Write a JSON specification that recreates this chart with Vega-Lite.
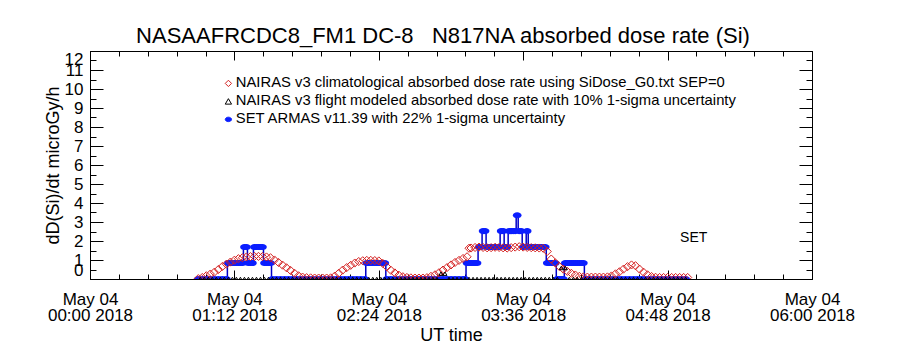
{
  "$schema": "https://vega.github.io/schema/vega-lite/v6.json",
  "width": 722,
  "height": 228,
  "autosize": {"type": "none"},
  "padding": {"left": 90, "top": 51, "right": 88, "bottom": 71},
  "background": "white",
  "title": {"text": "NASAAFRCDC8_FM1 DC-8\u00a0\u00a0 N817NA absorbed dose rate (Si)", "fontSize": 22, "fontWeight": "normal", "font": "Liberation Sans", "frame": "group", "offset": 2, "dx": -8, "color": "black"},
  "config": {
    "font": "Liberation Sans",
    "view": {"stroke": "black", "strokeWidth": 1},
    "axis": {"grid": false, "domainColor": "black", "tickColor": "black", "labelColor": "black", "titleColor": "black", "labelFont": "Liberation Sans", "titleFont": "Liberation Sans", "titleFontWeight": "normal", "labelFlush": false}
  },
  "datasets": {
    "armas": [
      {"ut_minutes":54,"dose_rate":0},{"ut_minutes":56,"dose_rate":0},{"ut_minutes":58,"dose_rate":0},{"ut_minutes":60,"dose_rate":0},{"ut_minutes":62,"dose_rate":0},{"ut_minutes":64,"dose_rate":0},{"ut_minutes":66,"dose_rate":0},{"ut_minutes":68,"dose_rate":0},
      {"ut_minutes":69,"dose_rate":0.84},{"ut_minutes":70,"dose_rate":0.84},{"ut_minutes":71,"dose_rate":0.84},{"ut_minutes":72,"dose_rate":0.84},{"ut_minutes":73,"dose_rate":0.84},{"ut_minutes":74,"dose_rate":0.84},{"ut_minutes":75,"dose_rate":0.84},{"ut_minutes":76,"dose_rate":0.84},
      {"ut_minutes":77,"dose_rate":1.68},{"ut_minutes":78,"dose_rate":1.68},
      {"ut_minutes":79,"dose_rate":0.84},{"ut_minutes":80,"dose_rate":0.84},{"ut_minutes":81,"dose_rate":0.84},
      {"ut_minutes":82,"dose_rate":1.68},{"ut_minutes":83,"dose_rate":1.68},{"ut_minutes":84,"dose_rate":1.68},{"ut_minutes":85,"dose_rate":1.68},{"ut_minutes":86,"dose_rate":1.68},
      {"ut_minutes":87,"dose_rate":0.84},{"ut_minutes":88,"dose_rate":0.84},{"ut_minutes":89,"dose_rate":0.84},{"ut_minutes":90,"dose_rate":0.84},
      {"ut_minutes":91,"dose_rate":0},{"ut_minutes":93,"dose_rate":0},{"ut_minutes":95,"dose_rate":0},{"ut_minutes":97,"dose_rate":0},{"ut_minutes":99,"dose_rate":0},{"ut_minutes":101,"dose_rate":0},{"ut_minutes":103,"dose_rate":0},{"ut_minutes":105,"dose_rate":0},{"ut_minutes":107,"dose_rate":0},{"ut_minutes":109,"dose_rate":0},{"ut_minutes":111,"dose_rate":0},{"ut_minutes":113,"dose_rate":0},{"ut_minutes":115,"dose_rate":0},{"ut_minutes":117,"dose_rate":0},{"ut_minutes":119,"dose_rate":0},{"ut_minutes":121,"dose_rate":0},{"ut_minutes":123,"dose_rate":0},{"ut_minutes":125,"dose_rate":0},{"ut_minutes":127,"dose_rate":0},{"ut_minutes":129,"dose_rate":0},{"ut_minutes":131,"dose_rate":0},{"ut_minutes":133,"dose_rate":0},{"ut_minutes":135,"dose_rate":0},{"ut_minutes":137,"dose_rate":0},
      {"ut_minutes":138,"dose_rate":0.84},{"ut_minutes":139,"dose_rate":0.84},{"ut_minutes":140,"dose_rate":0.84},{"ut_minutes":141,"dose_rate":0.84},{"ut_minutes":142,"dose_rate":0.84},{"ut_minutes":143,"dose_rate":0.84},{"ut_minutes":144,"dose_rate":0.84},{"ut_minutes":145,"dose_rate":0.84},{"ut_minutes":146,"dose_rate":0.84},{"ut_minutes":147,"dose_rate":0.84},
      {"ut_minutes":148,"dose_rate":0},{"ut_minutes":150,"dose_rate":0},{"ut_minutes":152,"dose_rate":0},{"ut_minutes":154,"dose_rate":0},{"ut_minutes":156,"dose_rate":0},{"ut_minutes":158,"dose_rate":0},{"ut_minutes":160,"dose_rate":0},{"ut_minutes":162,"dose_rate":0},{"ut_minutes":164,"dose_rate":0},{"ut_minutes":166,"dose_rate":0},{"ut_minutes":168,"dose_rate":0},{"ut_minutes":170,"dose_rate":0},{"ut_minutes":172,"dose_rate":0},{"ut_minutes":174,"dose_rate":0},{"ut_minutes":176,"dose_rate":0},{"ut_minutes":178,"dose_rate":0},{"ut_minutes":180,"dose_rate":0},{"ut_minutes":182,"dose_rate":0},{"ut_minutes":184,"dose_rate":0},{"ut_minutes":186,"dose_rate":0},{"ut_minutes":187,"dose_rate":0},
      {"ut_minutes":188,"dose_rate":0.84},{"ut_minutes":189,"dose_rate":0.84},{"ut_minutes":190,"dose_rate":0.84},{"ut_minutes":191,"dose_rate":0.84},{"ut_minutes":192,"dose_rate":0.84},{"ut_minutes":193,"dose_rate":0.84},
      {"ut_minutes":194,"dose_rate":1.68},{"ut_minutes":195,"dose_rate":1.68},
      {"ut_minutes":196,"dose_rate":2.52},{"ut_minutes":197,"dose_rate":2.52},
      {"ut_minutes":198,"dose_rate":1.68},{"ut_minutes":199,"dose_rate":1.68},{"ut_minutes":200,"dose_rate":1.68},{"ut_minutes":201,"dose_rate":1.68},{"ut_minutes":202,"dose_rate":1.68},{"ut_minutes":203,"dose_rate":1.68},{"ut_minutes":204,"dose_rate":1.68},
      {"ut_minutes":205,"dose_rate":2.52},{"ut_minutes":206,"dose_rate":2.52},
      {"ut_minutes":207,"dose_rate":1.68},{"ut_minutes":208,"dose_rate":1.68},
      {"ut_minutes":209,"dose_rate":2.52},{"ut_minutes":210,"dose_rate":2.52},{"ut_minutes":211,"dose_rate":2.52},{"ut_minutes":212,"dose_rate":2.52},
      {"ut_minutes":213,"dose_rate":3.36},
      {"ut_minutes":214,"dose_rate":2.52},{"ut_minutes":215,"dose_rate":2.52},
      {"ut_minutes":216,"dose_rate":1.68},{"ut_minutes":217,"dose_rate":1.68},
      {"ut_minutes":218,"dose_rate":2.52},
      {"ut_minutes":219,"dose_rate":1.68},{"ut_minutes":220,"dose_rate":1.68},{"ut_minutes":221,"dose_rate":1.68},{"ut_minutes":222,"dose_rate":1.68},{"ut_minutes":223,"dose_rate":1.68},{"ut_minutes":224,"dose_rate":1.68},{"ut_minutes":225,"dose_rate":1.68},{"ut_minutes":226,"dose_rate":1.68},{"ut_minutes":227,"dose_rate":1.68},
      {"ut_minutes":228,"dose_rate":0.84},{"ut_minutes":229,"dose_rate":0.84},{"ut_minutes":230,"dose_rate":0.84},{"ut_minutes":231,"dose_rate":0.84},{"ut_minutes":232,"dose_rate":0.84},
      {"ut_minutes":233,"dose_rate":0},{"ut_minutes":234,"dose_rate":0},{"ut_minutes":235,"dose_rate":0},{"ut_minutes":236,"dose_rate":0},
      {"ut_minutes":237,"dose_rate":0.84},{"ut_minutes":238,"dose_rate":0.84},{"ut_minutes":239,"dose_rate":0.84},{"ut_minutes":240,"dose_rate":0.84},{"ut_minutes":241,"dose_rate":0.84},{"ut_minutes":242,"dose_rate":0.84},{"ut_minutes":243,"dose_rate":0.84},{"ut_minutes":244,"dose_rate":0.84},{"ut_minutes":245,"dose_rate":0.84},{"ut_minutes":246,"dose_rate":0.84},
      {"ut_minutes":247,"dose_rate":0},{"ut_minutes":249,"dose_rate":0},{"ut_minutes":251,"dose_rate":0},{"ut_minutes":253,"dose_rate":0},{"ut_minutes":255,"dose_rate":0},{"ut_minutes":257,"dose_rate":0},{"ut_minutes":259,"dose_rate":0},{"ut_minutes":261,"dose_rate":0},{"ut_minutes":263,"dose_rate":0},{"ut_minutes":265,"dose_rate":0},{"ut_minutes":267,"dose_rate":0},{"ut_minutes":269,"dose_rate":0},{"ut_minutes":271,"dose_rate":0},{"ut_minutes":273,"dose_rate":0},{"ut_minutes":275,"dose_rate":0},{"ut_minutes":277,"dose_rate":0},{"ut_minutes":279,"dose_rate":0},{"ut_minutes":281,"dose_rate":0},{"ut_minutes":283,"dose_rate":0},{"ut_minutes":285,"dose_rate":0},{"ut_minutes":287,"dose_rate":0},{"ut_minutes":289,"dose_rate":0},{"ut_minutes":291,"dose_rate":0},{"ut_minutes":293,"dose_rate":0},{"ut_minutes":295,"dose_rate":0},{"ut_minutes":297,"dose_rate":0}
    ],
    "climatological": [
      {"ut_minutes":54,"dose_rate":0.02},{"ut_minutes":56,"dose_rate":0.08},{"ut_minutes":58,"dose_rate":0.17},{"ut_minutes":60,"dose_rate":0.26},{"ut_minutes":62,"dose_rate":0.36},{"ut_minutes":64,"dose_rate":0.5},{"ut_minutes":66,"dose_rate":0.66},{"ut_minutes":68,"dose_rate":0.78},{"ut_minutes":70,"dose_rate":0.89},{"ut_minutes":72,"dose_rate":0.99},{"ut_minutes":74,"dose_rate":1.07},{"ut_minutes":76,"dose_rate":1.12},{"ut_minutes":78,"dose_rate":1.16},{"ut_minutes":80,"dose_rate":1.18},{"ut_minutes":82,"dose_rate":1.19},{"ut_minutes":84,"dose_rate":1.19},{"ut_minutes":86,"dose_rate":1.18},{"ut_minutes":88,"dose_rate":1.16},{"ut_minutes":90,"dose_rate":1.12},{"ut_minutes":92,"dose_rate":1.0},{"ut_minutes":94,"dose_rate":0.87},{"ut_minutes":96,"dose_rate":0.73},{"ut_minutes":98,"dose_rate":0.59},{"ut_minutes":100,"dose_rate":0.45},{"ut_minutes":102,"dose_rate":0.3},{"ut_minutes":104,"dose_rate":0.17},{"ut_minutes":106,"dose_rate":0.1},{"ut_minutes":108,"dose_rate":0.07},{"ut_minutes":110,"dose_rate":0.06},{"ut_minutes":112,"dose_rate":0.05},{"ut_minutes":114,"dose_rate":0.05},{"ut_minutes":116,"dose_rate":0.05},{"ut_minutes":118,"dose_rate":0.05},{"ut_minutes":120,"dose_rate":0.06},{"ut_minutes":122,"dose_rate":0.15},{"ut_minutes":124,"dose_rate":0.3},{"ut_minutes":126,"dose_rate":0.47},{"ut_minutes":128,"dose_rate":0.6},{"ut_minutes":130,"dose_rate":0.72},{"ut_minutes":132,"dose_rate":0.84},{"ut_minutes":134,"dose_rate":0.92},{"ut_minutes":136,"dose_rate":0.96},{"ut_minutes":138,"dose_rate":0.98},{"ut_minutes":140,"dose_rate":0.98},{"ut_minutes":142,"dose_rate":0.97},{"ut_minutes":144,"dose_rate":0.95},{"ut_minutes":146,"dose_rate":0.82},{"ut_minutes":148,"dose_rate":0.64},{"ut_minutes":150,"dose_rate":0.46},{"ut_minutes":152,"dose_rate":0.32},{"ut_minutes":154,"dose_rate":0.2},{"ut_minutes":156,"dose_rate":0.12},{"ut_minutes":158,"dose_rate":0.08},{"ut_minutes":160,"dose_rate":0.06},{"ut_minutes":162,"dose_rate":0.05},{"ut_minutes":164,"dose_rate":0.05},{"ut_minutes":166,"dose_rate":0.05},{"ut_minutes":168,"dose_rate":0.07},{"ut_minutes":170,"dose_rate":0.14},{"ut_minutes":172,"dose_rate":0.22},{"ut_minutes":174,"dose_rate":0.33},{"ut_minutes":176,"dose_rate":0.47},{"ut_minutes":178,"dose_rate":0.6},{"ut_minutes":180,"dose_rate":0.74},{"ut_minutes":182,"dose_rate":0.87},{"ut_minutes":184,"dose_rate":0.98},{"ut_minutes":186,"dose_rate":1.08},{"ut_minutes":188,"dose_rate":1.17},{"ut_minutes":189,"dose_rate":1.62},{"ut_minutes":190,"dose_rate":1.63},{"ut_minutes":192,"dose_rate":1.66},{"ut_minutes":194,"dose_rate":1.68},{"ut_minutes":196,"dose_rate":1.66},{"ut_minutes":198,"dose_rate":1.64},{"ut_minutes":200,"dose_rate":1.65},{"ut_minutes":202,"dose_rate":1.67},{"ut_minutes":204,"dose_rate":1.66},{"ut_minutes":206,"dose_rate":1.64},{"ut_minutes":208,"dose_rate":1.63},{"ut_minutes":210,"dose_rate":1.65},{"ut_minutes":212,"dose_rate":1.68},{"ut_minutes":214,"dose_rate":1.7},{"ut_minutes":216,"dose_rate":1.68},{"ut_minutes":218,"dose_rate":1.66},{"ut_minutes":220,"dose_rate":1.65},{"ut_minutes":222,"dose_rate":1.64},{"ut_minutes":224,"dose_rate":1.63},{"ut_minutes":226,"dose_rate":1.62},{"ut_minutes":228,"dose_rate":1.45},{"ut_minutes":230,"dose_rate":1.05},{"ut_minutes":232,"dose_rate":0.85},{"ut_minutes":234,"dose_rate":0.66},{"ut_minutes":236,"dose_rate":0.52},{"ut_minutes":238,"dose_rate":0.4},{"ut_minutes":240,"dose_rate":0.3},{"ut_minutes":242,"dose_rate":0.21},{"ut_minutes":244,"dose_rate":0.14},{"ut_minutes":246,"dose_rate":0.11},{"ut_minutes":248,"dose_rate":0.1},{"ut_minutes":250,"dose_rate":0.1},{"ut_minutes":252,"dose_rate":0.1},{"ut_minutes":254,"dose_rate":0.1},{"ut_minutes":256,"dose_rate":0.1},{"ut_minutes":258,"dose_rate":0.11},{"ut_minutes":260,"dose_rate":0.16},{"ut_minutes":262,"dose_rate":0.27},{"ut_minutes":264,"dose_rate":0.38},{"ut_minutes":266,"dose_rate":0.52},{"ut_minutes":268,"dose_rate":0.65},{"ut_minutes":270,"dose_rate":0.74},{"ut_minutes":272,"dose_rate":0.7},{"ut_minutes":274,"dose_rate":0.52},{"ut_minutes":276,"dose_rate":0.36},{"ut_minutes":278,"dose_rate":0.22},{"ut_minutes":280,"dose_rate":0.13},{"ut_minutes":282,"dose_rate":0.09},{"ut_minutes":284,"dose_rate":0.08},{"ut_minutes":286,"dose_rate":0.08},{"ut_minutes":288,"dose_rate":0.08},{"ut_minutes":290,"dose_rate":0.08},{"ut_minutes":292,"dose_rate":0.08},{"ut_minutes":294,"dose_rate":0.08},{"ut_minutes":296,"dose_rate":0.08},{"ut_minutes":298,"dose_rate":0.08}
    ],
    "flight_model": [
      {"ut_minutes":55,"dose_rate":0},{"ut_minutes":57,"dose_rate":0},{"ut_minutes":59,"dose_rate":0},{"ut_minutes":61,"dose_rate":0},{"ut_minutes":63,"dose_rate":0},{"ut_minutes":65,"dose_rate":0},{"ut_minutes":67,"dose_rate":0},{"ut_minutes":69,"dose_rate":0},{"ut_minutes":71,"dose_rate":0},{"ut_minutes":73,"dose_rate":0},{"ut_minutes":75,"dose_rate":0},{"ut_minutes":77,"dose_rate":0},{"ut_minutes":79,"dose_rate":0},{"ut_minutes":81,"dose_rate":0},{"ut_minutes":83,"dose_rate":0},{"ut_minutes":85,"dose_rate":0},{"ut_minutes":87,"dose_rate":0},{"ut_minutes":89,"dose_rate":0},{"ut_minutes":91,"dose_rate":0},{"ut_minutes":93,"dose_rate":0},{"ut_minutes":95,"dose_rate":0},{"ut_minutes":97,"dose_rate":0},{"ut_minutes":99,"dose_rate":0},{"ut_minutes":101,"dose_rate":0},{"ut_minutes":103,"dose_rate":0},{"ut_minutes":105,"dose_rate":0},{"ut_minutes":107,"dose_rate":0},{"ut_minutes":109,"dose_rate":0},{"ut_minutes":111,"dose_rate":0},{"ut_minutes":113,"dose_rate":0},{"ut_minutes":115,"dose_rate":0},{"ut_minutes":117,"dose_rate":0},{"ut_minutes":119,"dose_rate":0},{"ut_minutes":121,"dose_rate":0},{"ut_minutes":123,"dose_rate":0},{"ut_minutes":125,"dose_rate":0},{"ut_minutes":127,"dose_rate":0},{"ut_minutes":129,"dose_rate":0},{"ut_minutes":131,"dose_rate":0},{"ut_minutes":133,"dose_rate":0},{"ut_minutes":135,"dose_rate":0},{"ut_minutes":137,"dose_rate":0},{"ut_minutes":139,"dose_rate":0},{"ut_minutes":141,"dose_rate":0},{"ut_minutes":143,"dose_rate":0},{"ut_minutes":145,"dose_rate":0},{"ut_minutes":147,"dose_rate":0},{"ut_minutes":149,"dose_rate":0},{"ut_minutes":151,"dose_rate":0},{"ut_minutes":153,"dose_rate":0},{"ut_minutes":155,"dose_rate":0},{"ut_minutes":157,"dose_rate":0},{"ut_minutes":159,"dose_rate":0},{"ut_minutes":161,"dose_rate":0},{"ut_minutes":163,"dose_rate":0},{"ut_minutes":165,"dose_rate":0},{"ut_minutes":167,"dose_rate":0},{"ut_minutes":169,"dose_rate":0},{"ut_minutes":171,"dose_rate":0},{"ut_minutes":173,"dose_rate":0},{"ut_minutes":175,"dose_rate":0.28},{"ut_minutes":177,"dose_rate":0.28},{"ut_minutes":179,"dose_rate":0},{"ut_minutes":181,"dose_rate":0},{"ut_minutes":183,"dose_rate":0},{"ut_minutes":185,"dose_rate":0},{"ut_minutes":187,"dose_rate":0},{"ut_minutes":189,"dose_rate":0},{"ut_minutes":191,"dose_rate":0},{"ut_minutes":193,"dose_rate":0},{"ut_minutes":195,"dose_rate":0},{"ut_minutes":197,"dose_rate":0},{"ut_minutes":199,"dose_rate":0},{"ut_minutes":201,"dose_rate":0},{"ut_minutes":203,"dose_rate":0},{"ut_minutes":205,"dose_rate":0},{"ut_minutes":207,"dose_rate":0},{"ut_minutes":209,"dose_rate":0},{"ut_minutes":211,"dose_rate":0},{"ut_minutes":213,"dose_rate":0},{"ut_minutes":215,"dose_rate":0},{"ut_minutes":217,"dose_rate":0},{"ut_minutes":219,"dose_rate":0},{"ut_minutes":221,"dose_rate":0},{"ut_minutes":223,"dose_rate":0},{"ut_minutes":225,"dose_rate":0},{"ut_minutes":227,"dose_rate":0},{"ut_minutes":229,"dose_rate":0},{"ut_minutes":231,"dose_rate":0},{"ut_minutes":233,"dose_rate":0},{"ut_minutes":235,"dose_rate":0.58},{"ut_minutes":237,"dose_rate":0.58},{"ut_minutes":239,"dose_rate":0},{"ut_minutes":241,"dose_rate":0},{"ut_minutes":243,"dose_rate":0},{"ut_minutes":245,"dose_rate":0},{"ut_minutes":247,"dose_rate":0},{"ut_minutes":249,"dose_rate":0},{"ut_minutes":251,"dose_rate":0},{"ut_minutes":253,"dose_rate":0},{"ut_minutes":255,"dose_rate":0},{"ut_minutes":257,"dose_rate":0},{"ut_minutes":259,"dose_rate":0},{"ut_minutes":261,"dose_rate":0},{"ut_minutes":263,"dose_rate":0},{"ut_minutes":265,"dose_rate":0},{"ut_minutes":267,"dose_rate":0},{"ut_minutes":269,"dose_rate":0},{"ut_minutes":271,"dose_rate":0},{"ut_minutes":273,"dose_rate":0},{"ut_minutes":275,"dose_rate":0},{"ut_minutes":277,"dose_rate":0},{"ut_minutes":279,"dose_rate":0},{"ut_minutes":281,"dose_rate":0},{"ut_minutes":283,"dose_rate":0},{"ut_minutes":285,"dose_rate":0},{"ut_minutes":287,"dose_rate":0},{"ut_minutes":289,"dose_rate":0},{"ut_minutes":291,"dose_rate":0},{"ut_minutes":293,"dose_rate":0},{"ut_minutes":295,"dose_rate":0},{"ut_minutes":297,"dose_rate":0}
    ],
    "note": [{"ut_minutes": 301, "dose_rate": 2.16, "label": "SET"}]
  },
  "resolve": {"axis": {"x": "independent", "y": "independent"}},
  "layer": [
    {
      "data": {"name": "armas"},
      "mark": {"type": "line", "interpolate": "step", "color": "#0000c8", "strokeWidth": 1.5, "clip": true},
      "encoding": {
        "x": {"field": "ut_minutes", "type": "quantitative", "scale": {"domain": [0, 360], "nice": false, "zero": false},
          "axis": {"orient": "bottom", "values": [0,72,144,216,288,360],
            "labelExpr": "['May 04', (floor(datum.value/60) < 10 ? '0' : '') + floor(datum.value/60) + ':' + (datum.value % 60 < 10 ? '0' : '') + (datum.value % 60) + ' 2018']",
            "tickSize": -9, "labelPadding": 21, "labelFontSize": 17, "labelLineHeight": 16, "labelBaseline": "top", "labelOverlap": false, "labelFlush": false,
            "title": "UT time", "titleFontSize": 18, "titlePadding": 3}},
        "y": {"field": "dose_rate", "type": "quantitative", "scale": {"domain": [0, 12], "nice": false},
          "axis": {"orient": "left", "values": [0,1,2,3,4,5,6,7,8,9,10,11,12], "format": "d",
            "tickSize": -13, "labelFlush": true, "labelPadding": 20, "labelFontSize": 17, "labelOverlap": false,
            "title": "dD(Si)/dt microGy/h", "titleFontSize": 18, "titlePadding": 2}}
      }
    },
    {
      "data": {"name": "armas"},
      "mark": {"type": "point", "filled": true, "size": 75, "opacity": 1, "strokeWidth": 0, "clip": true},
      "encoding": {
        "x": {"field": "ut_minutes", "type": "quantitative", "axis": null},
        "y": {"field": "dose_rate", "type": "quantitative", "axis": null},
        "shape": {"datum": "SET ARMAS v11.39 with 22% 1-sigma uncertainty",
          "scale": {"domain": ["NAIRAS v3 climatological absorbed dose rate using SiDose_G0.txt SEP=0", "NAIRAS v3 flight modeled absorbed dose rate with 10% 1-sigma uncertainty", "SET ARMAS v11.39 with 22% 1-sigma uncertainty"], "range": ["diamond", "triangle-up", "M-1,0A1,0.7 0 1,0 1,0A1,0.7 0 1,0 -1,0Z"]},
          "legend": {"orient": "none", "legendX": 131, "legendY": 25, "title": null, "labelFontSize": 14.8, "labelFont": "Liberation Sans", "labelColor": "black", "symbolSize": 40, "symbolStrokeWidth": 1, "labelOffset": 0, "rowPadding": 2, "padding": 0, "labelLimit": 700}},
        "fill": {"datum": "SET ARMAS v11.39 with 22% 1-sigma uncertainty",
          "scale": {"domain": ["NAIRAS v3 climatological absorbed dose rate using SiDose_G0.txt SEP=0", "NAIRAS v3 flight modeled absorbed dose rate with 10% 1-sigma uncertainty", "SET ARMAS v11.39 with 22% 1-sigma uncertainty"], "range": ["transparent", "transparent", "#0a1eff"]}},
        "stroke": {"datum": "SET ARMAS v11.39 with 22% 1-sigma uncertainty",
          "scale": {"domain": ["NAIRAS v3 climatological absorbed dose rate using SiDose_G0.txt SEP=0", "NAIRAS v3 flight modeled absorbed dose rate with 10% 1-sigma uncertainty", "SET ARMAS v11.39 with 22% 1-sigma uncertainty"], "range": ["#d42020", "#000000", "#0a1eff"]}}
      }
    },
    {
      "data": {"name": "climatological"},
      "mark": {"type": "point", "filled": false, "size": 66, "opacity": 1, "strokeWidth": 1, "clip": true},
      "encoding": {
        "x": {"field": "ut_minutes", "type": "quantitative",
          "axis": {"orient": "bottom", "values": [14.4,28.8,43.2,57.6,86.4,100.8,115.2,129.6,158.4,172.8,187.2,201.6,230.4,244.8,259.2,273.6,302.4,316.8,331.2,345.6], "labels": false, "title": null, "domain": false, "tickSize": -5}},
        "y": {"field": "dose_rate", "type": "quantitative",
          "axis": {"orient": "left", "values": [0.5,1.5,2.5,3.5,4.5,5.5,6.5,7.5,8.5,9.5,10.5,11.5], "labels": false, "title": null, "domain": false, "tickSize": -6}},
        "shape": {"datum": "NAIRAS v3 climatological absorbed dose rate using SiDose_G0.txt SEP=0"},
        "fill": {"datum": "NAIRAS v3 climatological absorbed dose rate using SiDose_G0.txt SEP=0"},
        "stroke": {"datum": "NAIRAS v3 climatological absorbed dose rate using SiDose_G0.txt SEP=0"}
      }
    },
    {
      "data": {"name": "flight_model"},
      "mark": {"type": "point", "filled": false, "size": 16, "opacity": 1, "strokeWidth": 1, "clip": true},
      "encoding": {
        "x": {"field": "ut_minutes", "type": "quantitative",
          "axis": {"orient": "top", "values": [14.4,28.8,43.2,57.6,86.4,100.8,115.2,129.6,158.4,172.8,187.2,201.6,230.4,244.8,259.2,273.6,302.4,316.8,331.2,345.6], "labels": false, "title": null, "domain": false, "tickSize": -5}},
        "y": {"field": "dose_rate", "type": "quantitative",
          "axis": {"orient": "right", "values": [0.5,1.5,2.5,3.5,4.5,5.5,6.5,7.5,8.5,9.5,10.5,11.5], "labels": false, "title": null, "domain": false, "tickSize": -6}},
        "shape": {"datum": "NAIRAS v3 flight modeled absorbed dose rate with 10% 1-sigma uncertainty"},
        "fill": {"datum": "NAIRAS v3 flight modeled absorbed dose rate with 10% 1-sigma uncertainty"},
        "stroke": {"datum": "NAIRAS v3 flight modeled absorbed dose rate with 10% 1-sigma uncertainty"}
      }
    },
    {
      "data": {"name": "note"},
      "mark": {"type": "text", "fontSize": 14, "font": "Liberation Sans", "color": "black", "align": "center", "baseline": "middle"},
      "encoding": {
        "x": {"field": "ut_minutes", "type": "quantitative",
          "axis": {"orient": "top", "values": [0,72,144,216,288,360], "labels": false, "title": null, "tickSize": -9}},
        "y": {"field": "dose_rate", "type": "quantitative",
          "axis": {"orient": "right", "values": [0,1,2,3,4,5,6,7,8,9,10,11,12], "labels": false, "title": null, "tickSize": -13}},
        "text": {"field": "label"}
      }
    }
  ]
}
